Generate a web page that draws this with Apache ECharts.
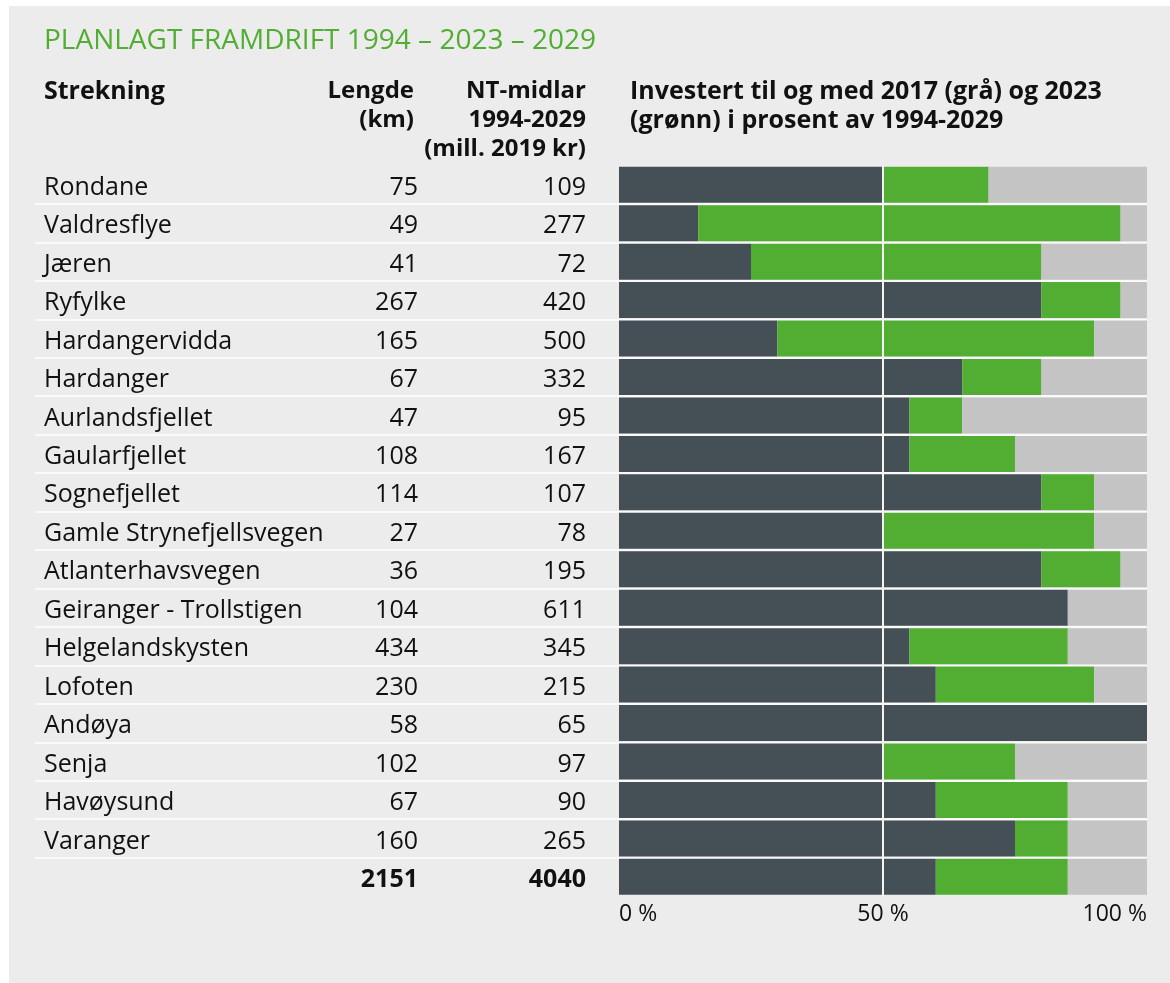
<!DOCTYPE html>
<html>
<head>
<meta charset="utf-8">
<script src="https://cdn.jsdelivr.net/npm/echarts@6/dist/echarts.min.js"></script>
<style>
    html, body { margin: 0; padding: 0; background: #fff; }
    #chart { position: absolute; left: 9px; top: 6px; width: 1161px; height: 977px; background: #ececec; }
</style>
</head>
<body>
<div id="chart"></div>
<script>
// strekningar
const names = [
    'Rondane', 'Valdresflye', 'Jæren', 'Ryfylke', 'Hardangervidda', 'Hardanger',
    'Aurlandsfjellet', 'Gaularfjellet', 'Sognefjellet', 'Gamle Strynefjellsvegen',
    'Atlanterhavsvegen', 'Geiranger - Trollstigen', 'Helgelandskysten', 'Lofoten',
    'Andøya', 'Senja', 'Havøysund', 'Varanger'
];
// lengde (km)
const lengths = [75, 49, 41, 267, 165, 67, 47, 108, 114, 27, 36, 104, 434, 230, 58, 102, 67, 160];
// NT-midlar 1994-2029 (mill. 2019 kr)
const budgets = [109, 277, 72, 420, 500, 332, 95, 167, 107, 78, 195, 611, 345, 215, 65, 97, 90, 265];
const lengthTotal = 2151;
const budgetTotal = 4040;
// investert i prosent av 1994-2029 (siste = sum)
const pct2017 = [50, 15, 25, 80, 30, 65, 55, 55, 80, 50, 80, 85, 55, 60, 100, 50, 60, 75, 60];
const pct2023 = [70, 95, 80, 95, 90, 80, 65, 75, 90, 90, 95, 85, 85, 90, 100, 75, 85, 85, 85];
const xTicks = [0, 50, 100];

const rows = names.concat(['']);
const lengthLabels = lengths.map(String).concat([String(lengthTotal)]);
const budgetLabels = budgets.map(String).concat([String(budgetTotal)]);

const font = '"Open Sans", sans-serif';
const textColor = '#111';
const dark = '#444f56';
const green = '#52ad33';
const grey = '#c4c4c4';

const band = 38.45;
const top0 = 159.5;

const chart = echarts.init(document.getElementById('chart'));

const catAxis = (data, align, margin) => ({
    type: 'category',
    gridIndex: 1,
    data: data,
    inverse: true,
    position: 'left',
    axisLine: { show: false },
    axisTick: { show: false },
    splitLine: { show: false },
    axisLabel: {
        align: align,
        margin: margin,
        padding: [6, 0, 0, 0],
        fontFamily: font,
        fontSize: 25,
        color: textColor,
        formatter: (value, i) => i === rows.length - 1 ? '{b|' + value + '}' : value,
        rich: { b: { fontFamily: font, fontSize: 25, fontWeight: 'bold', color: textColor } }
    }
});

const header = (text, x, align, size) => ({
    type: 'text', x: x, y: 71,
    style: { text: text, textAlign: align, lineHeight: 29, fill: textColor, font: 'bold ' + (size || 24) + 'px ' + font }
});

const option = {
    animation: false,
    grid: [
        // bare for skiljelinjene mellom radene
        { left: 26, right: 23, top: top0 + band, height: band * 17 },
        { left: 610, right: 23, top: top0, height: band * rows.length }
    ],
    xAxis: [
        { type: 'value', gridIndex: 0, min: 0, max: 1, show: false },
        {
            type: 'value',
            gridIndex: 1,
            min: 0,
            max: 100,
            interval: 50,
            axisLine: { show: false },
            axisTick: { show: false },
            splitLine: { show: false },
            axisLabel: {
                margin: 7,
                fontFamily: font,
                fontSize: 23,
                color: textColor,
                alignMinLabel: 'left',
                alignMaxLabel: 'right',
                formatter: (v) => xTicks.includes(v) ? v + ' %' : ''
            }
        }
    ],
    yAxis: [
        {
            type: 'value',
            gridIndex: 0,
            min: 1,
            max: 18,
            interval: 1,
            inverse: true,
            axisLine: { show: false },
            axisTick: { show: false },
            axisLabel: { show: false },
            splitLine: { show: true, lineStyle: { color: '#fafafa', width: 2 } }
        },
        catAxis(rows, 'left', 575),
        catAxis(lengthLabels, 'right', 201),
        catAxis(budgetLabels, 'right', 33)
    ],
    graphic: [
        {
            type: 'text', x: 35, y: 21,
            style: { text: 'PLANLAGT FRAMDRIFT 1994 – 2023 – 2029', fill: green, font: '28px ' + font }
        },
        header('Strekning', 35, 'left', 25),
        header('Lengde\n(km)', 405, 'right'),
        header('NT-midlar\n1994-2029\n(mill. 2019 kr)', 577, 'right'),
        header('Investert til og med 2017 (grå) og 2023\n(grønn) i prosent av 1994-2029', 621, 'left', 25)
    ],
    series: [
        {
            name: '2017',
            type: 'bar',
            stack: 'p',
            xAxisIndex: 1,
            yAxisIndex: 1,
            barWidth: 36,
            itemStyle: { color: dark },
            data: pct2017
        },
        {
            name: '2023',
            type: 'bar',
            stack: 'p',
            xAxisIndex: 1,
            yAxisIndex: 1,
            barWidth: 36,
            itemStyle: { color: green },
            data: pct2023.map((v, i) => v - pct2017[i])
        },
        {
            name: 'Rest',
            type: 'bar',
            stack: 'p',
            xAxisIndex: 1,
            yAxisIndex: 1,
            barWidth: 36,
            itemStyle: { color: grey },
            data: pct2023.map(v => 100 - v),
            markLine: {
                silent: true,
                symbol: 'none',
                label: { show: false },
                lineStyle: { color: '#f4f4f4', width: 2, type: 'solid' },
                data: [{ xAxis: 50 }]
            }
        }
    ]
};

chart.setOption(option);
</script>
</body>
</html>
